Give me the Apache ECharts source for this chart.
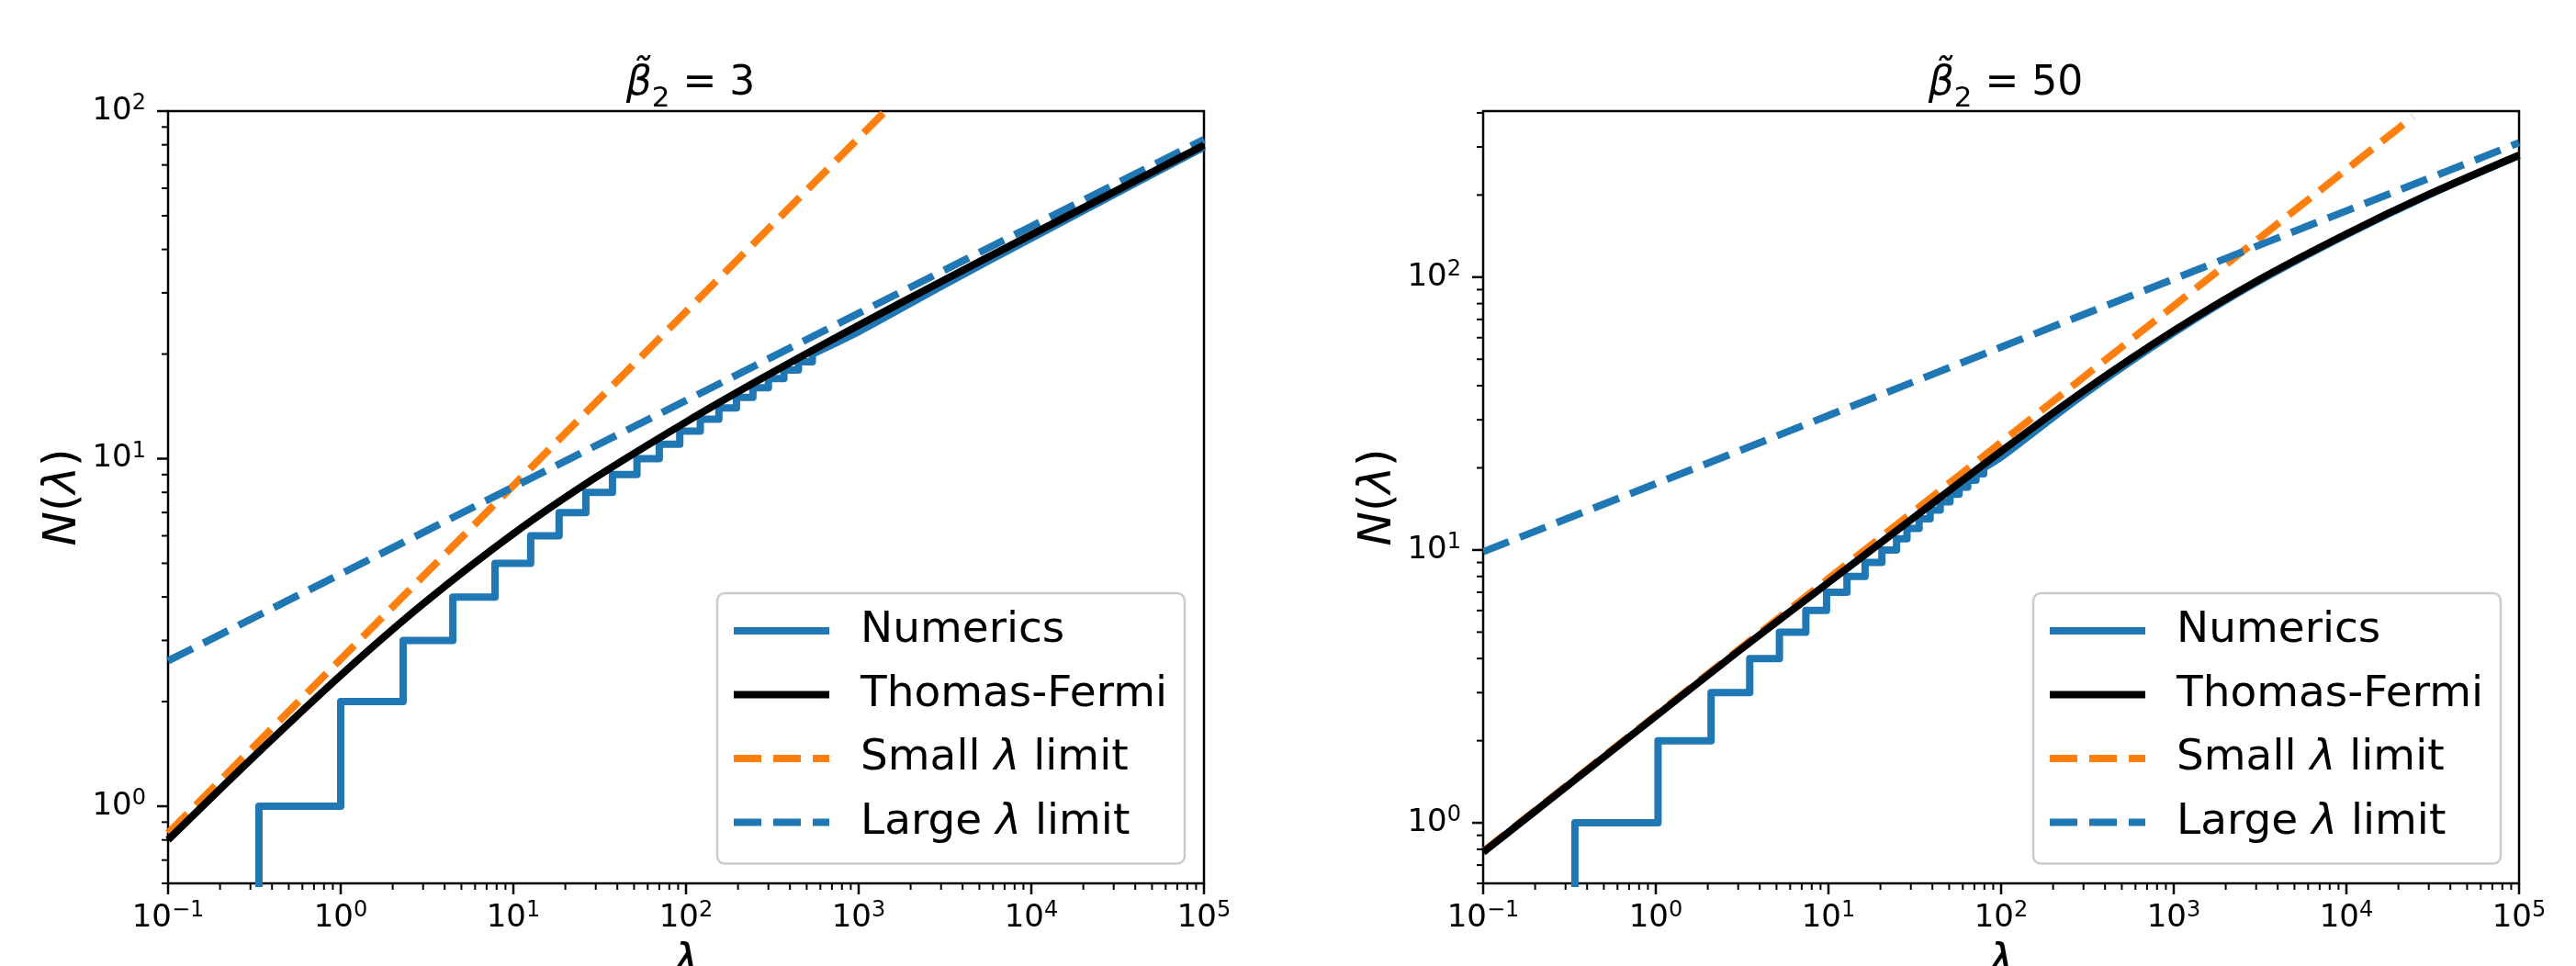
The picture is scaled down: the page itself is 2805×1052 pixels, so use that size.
<!DOCTYPE html>
<html>
<head>
<meta charset="utf-8">
<script src="https://cdn.jsdelivr.net/npm/echarts@6/dist/echarts.min.js"></script>
<style>
  html, body { margin: 0; padding: 0; background: #fff; }
  #main { width: 2805px; height: 1052px; }
</style>
</head>
<body>
<div id="main"></div>
<script>
// N(λ) counting function, two panels (β̃2 = 3 and β̃2 = 50)
const FONT = 'DejaVu Sans';
const BLUE = '#1f77b4';
const ORANGE = '#ff7f0e';

// λ grid used for the smooth curves
const lamGrid = [0.1, 0.3, 1, 3, 10, 30, 100, 300, 1000, 3000, 1e4, 3e4, 1e5];
const smallLam = [0.1, 1, 10, 100, 1000, 1e4, 2.43e4];
const largeLam = [0.1, 1, 10, 100, 1000, 1e4, 1e5];

// --- β̃2 = 3 ---
const tfA = [0.80, 1.36, 2.38, 3.82, 6.08, 8.83, 12.75, 17.44, 24.2, 32.3, 44.1, 58.5, 79.8];
const eigA = [0.336, 1.0, 2.3, 4.46, 7.83, 12.6, 18.4, 26.3, 37.5, 52, 70, 92, 121, 155, 196, 244, 300, 369, 448, 539];
const tailLamA = [539, 1000, 3000, 1e4, 3e4, 1e5];
const tailA = [20, 23.2, 31.3, 43.1, 57.5, 78.8];
const smallA = [0.837, 2.65, 8.37, 26.5, 83.7, 265, 412];
const largeA = [2.62, 4.66, 8.29, 14.7, 26.2, 46.6, 82.9];

// --- β̃2 = 50 ---
const tfB = [0.78, 1.35, 2.46, 4.25, 7.6, 12.9, 23.0, 38.2, 63.6, 96.5, 144, 201, 280];
const eigB = [0.34, 1.03, 2.09, 3.5, 5.2, 7.4, 9.75, 12.8, 16.3, 20.4, 24.8, 28.5, 33.5, 38.8, 44.4, 50.6, 57.1, 64.1, 71.5, 79.3];
const tailLamB = [79.3, 100, 300, 1000, 3000, 1e4, 3e4, 1e5];
const tailB = [20, 21.9, 37.1, 62.5, 95.4, 143, 200, 279];
const smallB = [0.785, 2.48, 7.85, 24.8, 78.5, 248, 387];
const largeB = [9.85, 17.5, 31.1, 55.4, 98.5, 175, 311];

// ticks
const xMajor = [0.1, 1, 10, 100, 1000, 1e4, 1e5];
const yMajor = [1, 10, 100];
const minorMult = [2, 3, 4, 5, 6, 7, 8, 9];
const xMinor = xMajor.slice(0, -1).flatMap(d => minorMult.map(m => +(m * d).toPrecision(3)));
const yMinorA = [0.6, 0.7, 0.8, 0.9].concat([1, 10].flatMap(d => minorMult.map(m => m * d)));
const yMinorB = yMinorA.concat([200, 300, 400]);

const legendNames = ['Numerics', 'Thomas-Fermi', 'Small λ limit', 'Large λ limit'];

const panels = [
  { beta: '3', left: 183, yMax: 100, tf: tfA, eig: eigA, tailLam: tailLamA, tail: tailA,
    small: smallA, large: largeA, yMinor: yMinorA, legendLeft: 781 },
  { beta: '50', left: 1615, yMax: 406, tf: tfB, eig: eigB, tailLam: tailLamB, tail: tailB,
    small: smallB, large: largeB, yMinor: yMinorB, legendLeft: 2214 }
];
const GRID_TOP = 121, GRID_W = 1128, GRID_H = 841, Y_MIN = 0.6;

const curve = (lams, vals) => lams.map((l, i) => [l, vals[i]]);
// staircase: N jumps by one at each eigenvalue (starts from below the axis)
const stairs = eig => [[eig[0], 0.1]].concat(eig.map((l, i) => [l, i + 1]));

const supLabel = v => {
  const e = Math.round(Math.log10(v));
  return '{b|10}{s|' + (e < 0 ? '\u2212' + (-e) : e) + '}';
};
const tickRich = {
  b: { fontSize: 34, fontFamily: FONT, lineHeight: 40, color: '#000' },
  s: { fontSize: 24, fontFamily: FONT, lineHeight: 24, verticalAlign: 'top', color: '#000' }
};

function xTicks(g) {
  const ticks = xMajor.map(v => ({ v, major: true })).concat(xMinor.map(v => ({ v, major: false })));
  return {
    type: 'custom', xAxisIndex: g, yAxisIndex: g, silent: true, z: 10, clip: false,
    data: ticks.map(t => [t.v, Y_MIN]),
    renderItem(params, api) {
      const t = ticks[params.dataIndex];
      const p = api.coord([t.v, Y_MIN]);
      const len = t.major ? 12 : 7;
      const kids = [{ type: 'line', shape: { x1: p[0], y1: p[1], x2: p[0], y2: p[1] + len },
        style: { stroke: '#000', lineWidth: t.major ? 2.5 : 2 } }];
      if (t.major) {
        kids.push({ type: 'text', x: p[0], y: p[1] + 18,
          style: { text: supLabel(t.v), rich: tickRich, align: 'center', verticalAlign: 'top', fill: '#000' } });
      }
      return { type: 'group', children: kids };
    }
  };
}

function yTicks(g, minor) {
  const ticks = yMajor.map(v => ({ v, major: true })).concat(minor.map(v => ({ v, major: false })));
  return {
    type: 'custom', xAxisIndex: g, yAxisIndex: g, silent: true, z: 10, clip: false,
    data: ticks.map(t => [0.1, t.v]),
    renderItem(params, api) {
      const t = ticks[params.dataIndex];
      const p = api.coord([0.1, t.v]);
      const len = t.major ? 12 : 7;
      const kids = [{ type: 'line', shape: { x1: p[0] - len, y1: p[1], x2: p[0], y2: p[1] },
        style: { stroke: '#000', lineWidth: t.major ? 2.5 : 2 } }];
      if (t.major) {
        kids.push({ type: 'text', x: p[0] - len - 12, y: p[1],
          style: { text: supLabel(t.v), rich: tickRich, align: 'right', verticalAlign: 'middle', fill: '#000' } });
      }
      return { type: 'group', children: kids };
    }
  };
}

const grids = [], xAxes = [], yAxes = [], series = [], titles = [], legends = [];

panels.forEach((p, g) => {
  grids.push({ left: p.left, top: GRID_TOP, width: GRID_W, height: GRID_H, show: true,
    borderColor: '#000', borderWidth: 2.5, backgroundColor: 'transparent', outerBoundsMode: 'none' });

  xAxes.push({ type: 'log', logBase: 10, gridIndex: g, min: 0.1, max: 1e5,
    axisLine: { show: false }, axisTick: { show: false }, axisLabel: { show: false }, splitLine: { show: false },
    name: 'λ', nameLocation: 'middle', nameGap: 58,
    nameTextStyle: { fontSize: 50, fontStyle: 'italic', fontFamily: FONT, color: '#000', lineHeight: 60 } });

  yAxes.push({ type: 'log', logBase: 10, gridIndex: g, min: Y_MIN, max: p.yMax,
    axisLine: { show: false }, axisTick: { show: false }, axisLabel: { show: false }, splitLine: { show: false },
    name: '{i|N}{n|(}{i|λ}{n|)}', nameLocation: 'middle', nameGap: 84,
    nameTextStyle: { color: '#000', rich: {
      i: { fontSize: 50, fontStyle: 'italic', fontFamily: FONT, lineHeight: 60, color: '#000' },
      n: { fontSize: 50, fontFamily: FONT, lineHeight: 60, color: '#000' } } } });

  titles.push({ text: '{i|\u03b2\u0303}{s|2}{n| = ' + p.beta + '}', left: p.left + GRID_W / 2, top: 56,
    textAlign: 'center',
    textStyle: { fontWeight: 'normal', rich: {
      i: { fontSize: 44, fontStyle: 'italic', fontWeight: 'normal', fontFamily: FONT, lineHeight: 62, color: '#000' },
      s: { fontSize: 31, fontWeight: 'normal', fontFamily: FONT, lineHeight: 28, verticalAlign: 'bottom', color: '#000' },
      n: { fontSize: 44, fontWeight: 'normal', fontFamily: FONT, lineHeight: 62, color: '#000' } } } });

  legends.push({ data: legendNames, left: p.legendLeft, top: 646, orient: 'vertical',
    itemWidth: 104, itemHeight: 14, itemGap: 19.5, padding: [16, 19, 20, 14],
    backgroundColor: 'rgba(255,255,255,0.85)', borderColor: '#cccccc', borderWidth: 2.5, borderRadius: 8,
    selectedMode: false, lineStyle: { width: 8 }, itemStyle: { opacity: 0 },
    formatter: name => name.replace('λ', '{i|λ}'),
    textStyle: { fontSize: 47, fontFamily: FONT, color: '#000', lineHeight: 50, padding: [0, 0, 0, 29],
      rich: { i: { fontSize: 47, fontStyle: 'italic', fontFamily: FONT, lineHeight: 50, color: '#000' } } } });

  const base = { type: 'line', xAxisIndex: g, yAxisIndex: g, symbol: 'none', clip: true, animation: false };
  series.push(
    Object.assign({}, base, { name: 'Numerics', data: stairs(p.eig), step: 'end', z: 2,
      itemStyle: { color: BLUE }, lineStyle: { color: BLUE, width: 8, join: 'round' } }),
    Object.assign({}, base, { name: 'Numerics', data: curve(p.tailLam, p.tail), smooth: 0.3, z: 2,
      itemStyle: { color: BLUE }, lineStyle: { color: BLUE, width: 8 } }),
    Object.assign({}, base, { name: 'Small λ limit', data: curve(smallLam, p.small), z: 3,
      itemStyle: { color: ORANGE }, lineStyle: { color: ORANGE, width: 8, type: [30, 13] } }),
    Object.assign({}, base, { name: 'Large λ limit', data: curve(largeLam, p.large), z: 3,
      itemStyle: { color: BLUE }, lineStyle: { color: BLUE, width: 8, type: [30, 13] } }),
    Object.assign({}, base, { name: 'Thomas-Fermi', data: curve(lamGrid, p.tf), smooth: 0.3, z: 4,
      itemStyle: { color: '#000' }, lineStyle: { color: '#000', width: 8 } }),
    xTicks(g),
    yTicks(g, p.yMinor)
  );
});

const chart = echarts.init(document.getElementById('main'), null, { renderer: 'canvas' });
chart.setOption({
  animation: false,
  backgroundColor: '#fff',
  title: titles,
  legend: legends,
  grid: grids,
  xAxis: xAxes,
  yAxis: yAxes,
  series: series
});
</script>
</body>
</html>
